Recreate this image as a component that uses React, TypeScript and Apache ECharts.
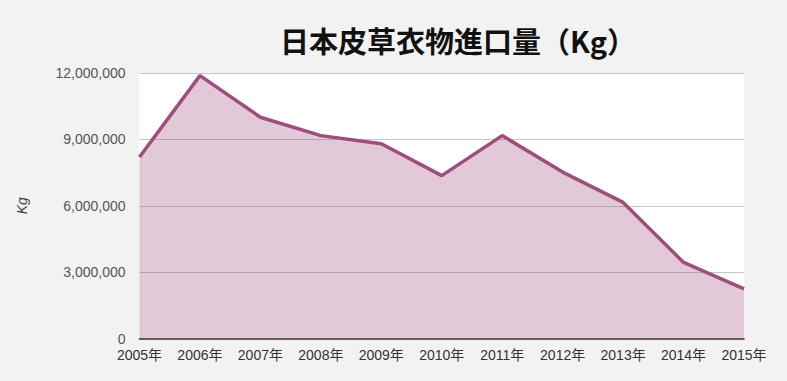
import React, { useEffect, useRef } from "react";
import * as echarts from "echarts";

const categories = ["2005年", "2006年", "2007年", "2008年", "2009年", "2010年", "2011年", "2012年", "2013年", "2014年", "2015年"];
const importKg = [8200000, 11880000, 10000000, 9170000, 8800000, 7360000, 9170000, 7520000, 6150000, 3440000, 2240000];
const titleText = "日本皮草衣物進口量（Kg）";
const yAxisName = "Kg";

export default function App() {
  const ref = useRef<HTMLDivElement>(null);
  useEffect(() => {
    if (!ref.current) return;
    const chart = echarts.init(ref.current, null, { renderer: "svg" });
    chart.setOption({
      animation: false,
      backgroundColor: "#f2f2f2",
      title: {
        text: titleText,
        left: 453,
        top: 20,
        textAlign: "center",
        textStyle: {
          fontFamily: "'Noto Sans CJK JP', sans-serif",
          fontSize: 29,
          fontWeight: "bold",
          color: "#111",
        },
      },
      grid: {
        left: 139.5,
        right: 43,
        top: 73,
        bottom: 42.5,
        show: true,
        backgroundColor: "#ffffff",
        borderWidth: 0,
      },
      xAxis: {
        type: "category",
        data: categories,
        boundaryGap: false,
        axisLine: { show: true, lineStyle: { color: "#333", width: 1.5 } },
        axisTick: { show: false },
        axisLabel: {
          color: "#333",
          fontSize: 14,
          fontFamily: "'Liberation Sans', 'Noto Sans CJK JP', sans-serif",
          margin: 9,
          interval: 0,
        },
        splitLine: { show: false },
      },
      yAxis: {
        type: "value",
        min: 0,
        max: 12000000,
        interval: 3000000,
        name: yAxisName,
        nameLocation: "middle",
        nameGap: 111,
        nameRotate: 90,
        nameTextStyle: {
          fontStyle: "italic",
          color: "#444",
          fontSize: 14,
          fontFamily: "'Liberation Sans', sans-serif",
        },
        axisLine: { show: false },
        axisTick: { show: false },
        axisLabel: {
          color: "#555",
          fontSize: 14,
          margin: 14,
          fontFamily: "'Liberation Sans', sans-serif",
          formatter: (v: number) => v.toLocaleString("en-US"),
        },
        splitLine: { show: true, lineStyle: { color: "#c6c6c6", width: 1 } },
      },
      series: [
        {
          type: "line",
          data: importKg,
          symbol: "none",
          lineStyle: { color: "#a04c7c", width: 3.5 },
          itemStyle: { color: "#a04c7c" },
          areaStyle: { color: "#a04c7c", opacity: 0.3 },
        },
      ],
    });
    return () => chart.dispose();
  }, []);
  return <div ref={ref} style={{ width: 787, height: 381, position: "fixed", left: 0, top: 0 }} />;
}
